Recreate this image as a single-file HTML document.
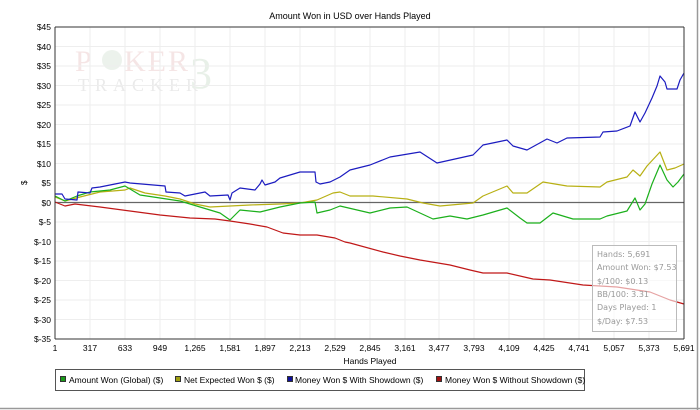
<!DOCTYPE html>
<html><head><style>html,body{margin:0;padding:0;background:#fff}svg{display:block;font-family:"Liberation Sans",Arial,sans-serif}</style></head>
<body>
<svg width="700" height="410" viewBox="0 0 700 410" xmlns="http://www.w3.org/2000/svg">
<rect x="0" y="0" width="700" height="410" fill="#fff"/>
<line x1="697.5" y1="0" x2="697.5" y2="410" stroke="#999" stroke-width="1.5"/>
<line x1="0" y1="408.5" x2="700" y2="408.5" stroke="#999" stroke-width="1.5"/>
<text x="350" y="19" font-size="9" text-anchor="middle" fill="#000">Amount Won in USD over Hands Played</text>
<!-- watermark -->
<g opacity="0.4">
<text x="75" y="71" font-family="Liberation Serif,serif" font-size="30" fill="#e8c0c0" letter-spacing="2">P</text>
<circle cx="112" cy="60" r="10" fill="#d0e0d0"/>
<text x="124" y="71" font-family="Liberation Serif,serif" font-size="30" fill="#e8c0c0" letter-spacing="2">KER</text>
<text x="78" y="91" font-family="Liberation Serif,serif" font-size="18" fill="#ccc" letter-spacing="6">TRACKER</text>
<text x="190" y="88" font-family="Liberation Serif,serif" font-size="44" fill="#c8dcc8">3</text>
</g>
<!-- grid -->
<g stroke="#eee" stroke-width="1">
<line x1="55" y1="46.5" x2="684" y2="46.5"/><line x1="55" y1="66" x2="684" y2="66"/><line x1="55" y1="85.5" x2="684" y2="85.5"/><line x1="55" y1="105" x2="684" y2="105"/><line x1="55" y1="124.5" x2="684" y2="124.5"/><line x1="55" y1="144" x2="684" y2="144"/><line x1="55" y1="163.5" x2="684" y2="163.5"/><line x1="55" y1="183" x2="684" y2="183"/><line x1="55" y1="222" x2="684" y2="222"/><line x1="55" y1="241.5" x2="684" y2="241.5"/><line x1="55" y1="261" x2="684" y2="261"/><line x1="55" y1="280.5" x2="684" y2="280.5"/><line x1="55" y1="300" x2="684" y2="300"/><line x1="55" y1="319.5" x2="684" y2="319.5"/>
<line x1="90" y1="27" x2="90" y2="339"/><line x1="125" y1="27" x2="125" y2="339"/><line x1="160" y1="27" x2="160" y2="339"/><line x1="195" y1="27" x2="195" y2="339"/><line x1="230" y1="27" x2="230" y2="339"/><line x1="265" y1="27" x2="265" y2="339"/><line x1="300" y1="27" x2="300" y2="339"/><line x1="335" y1="27" x2="335" y2="339"/><line x1="370" y1="27" x2="370" y2="339"/><line x1="405" y1="27" x2="405" y2="339"/><line x1="439" y1="27" x2="439" y2="339"/><line x1="474" y1="27" x2="474" y2="339"/><line x1="509" y1="27" x2="509" y2="339"/><line x1="544" y1="27" x2="544" y2="339"/><line x1="579" y1="27" x2="579" y2="339"/><line x1="614" y1="27" x2="614" y2="339"/><line x1="649" y1="27" x2="649" y2="339"/>
</g>
<line x1="55" y1="202.5" x2="684" y2="202.5" stroke="#666" stroke-width="1.2"/>
<!-- series -->
<g fill="none" stroke-width="1.2" stroke-linejoin="round">
<polyline stroke="#c01818" points="55,202 65,206 75,204 100,207 130,211 160,215 190,218 215,219 230,221 250,224 267,227 283,233 300,235 317,235 335,238 345,242 350,243 383,252 400,256 420,260 450,265 470,270 483,273 507,273 533,279 550,280 583,285 617,287 650,292 670,300 684,304"/>
<polyline stroke="#b8b014" points="55,197 65,201 80,197 100,192 125,190 130,188 145,193 165,196 180,199 195,204 210,207 230,206 250,205 280,204 300,203 317,200 333,193 340,192 350,196 373,196 407,199 423,203 440,206 473,203 483,196 507,186 513,193 527,193 543,182 567,186 600,187 607,182 627,177 633,170 640,176 647,166 660,152 667,170 675,168 684,164"/>
<polyline stroke="#1cb01c" points="55,196 65,201 77,196 90,192 110,190 125,186 140,195 160,198 180,201 200,207 220,213 230,220 240,210 260,212 280,207 300,203 315,202 317,213 330,210 340,206 370,213 390,208 407,207 433,219 450,216 467,219 483,215 507,208 520,218 527,223 540,223 553,213 573,219 600,219 607,216 627,211 635,198 640,210 645,204 652,184 660,165 667,180 673,187 678,182 684,174"/>
<polyline stroke="#1c1cc0" points="55,194 62,194 65,199 77,200 78,192 90,193 92,188 100,187 110,185 125,182 130,183 165,186 166,192 180,193 185,196 200,193 205,192 210,196 228,195 230,200 232,193 240,188 255,190 260,184 262,180 265,185 275,182 280,178 290,175 300,172 315,172 316,182 320,184 330,182 340,177 350,170 370,165 390,157 420,152 437,163 473,155 483,145 507,140 513,146 527,150 547,139 557,143 567,138 600,137 603,132 617,131 630,126 635,112 640,122 645,113 652,98 657,86 660,76 665,82 667,89 677,89 680,80 684,73"/>
</g>
<!-- axes -->
<line x1="55" y1="27" x2="55" y2="339" stroke="#333" stroke-width="1"/>
<line x1="55" y1="339" x2="684" y2="339" stroke="#333" stroke-width="1"/>
<line x1="55" y1="27" x2="684" y2="27" stroke="#333" stroke-width="1"/>
<line x1="684" y1="27" x2="684" y2="339" stroke="#333" stroke-width="1"/>
<g font-size="8.5" fill="#000" text-anchor="end">
<text x="51" y="30">$45</text><text x="51" y="50">$40</text><text x="51" y="69">$35</text><text x="51" y="89">$30</text><text x="51" y="108">$25</text><text x="51" y="128">$20</text><text x="51" y="147">$15</text><text x="51" y="167">$10</text><text x="51" y="186">$5</text><text x="51" y="206">$0</text><text x="51" y="225">$-5</text><text x="51" y="245">$-10</text><text x="51" y="264">$-15</text><text x="51" y="284">$-20</text><text x="51" y="303">$-25</text><text x="51" y="323">$-30</text><text x="51" y="342">$-35</text>
</g>
<text x="24" y="188" font-size="8" transform="rotate(-90 24 185)">$</text>
<g font-size="8.5" fill="#000" text-anchor="middle">
<text x="55" y="351">1</text><text x="90" y="351">317</text><text x="125" y="351">633</text><text x="160" y="351">949</text><text x="195" y="351">1,265</text><text x="230" y="351">1,581</text><text x="265" y="351">1,897</text><text x="300" y="351">2,213</text><text x="335" y="351">2,529</text><text x="370" y="351">2,845</text><text x="405" y="351">3,161</text><text x="439" y="351">3,477</text><text x="474" y="351">3,793</text><text x="509" y="351">4,109</text><text x="544" y="351">4,425</text><text x="579" y="351">4,741</text><text x="614" y="351">5,057</text><text x="649" y="351">5,373</text><text x="684" y="351">5,691</text>
</g>
<text x="370" y="364" font-size="8.5" text-anchor="middle">Hands Played</text>
<!-- info box -->
<rect x="592.5" y="245.5" width="84" height="86" fill="#fff" fill-opacity="0.6" stroke="#bbb"/>
<g font-family="DejaVu Sans,sans-serif" font-size="8" fill="#999">
<text x="597" y="257">Hands: 5,691</text><text x="597" y="270">Amount Won: $7.53</text><text x="597" y="284">$/100: $0.13</text><text x="597" y="297">BB/100: 3.31</text><text x="597" y="310">Days Played: 1</text><text x="597" y="324">$/Day: $7.53</text>
</g>
<!-- legend -->
<rect x="55.5" y="369.5" width="529" height="21" fill="#fff" stroke="#555"/>
<g font-size="8.5" fill="#000">
<rect x="60.5" y="376.5" width="5" height="5" fill="#1a9a1a" stroke="#333"/><text x="69" y="383">Amount Won (Global) ($)</text>
<rect x="175.5" y="376.5" width="5" height="5" fill="#a0a010" stroke="#333"/><text x="184" y="383">Net Expected Won $ ($)</text>
<rect x="287.5" y="376.5" width="5" height="5" fill="#10109a" stroke="#333"/><text x="295" y="383">Money Won $ With Showdown ($)</text>
<rect x="436.5" y="376.5" width="5" height="5" fill="#a01010" stroke="#333"/><text x="445" y="383">Money Won $ Without Showdown ($)</text>
</g>
</svg>
</body></html>
